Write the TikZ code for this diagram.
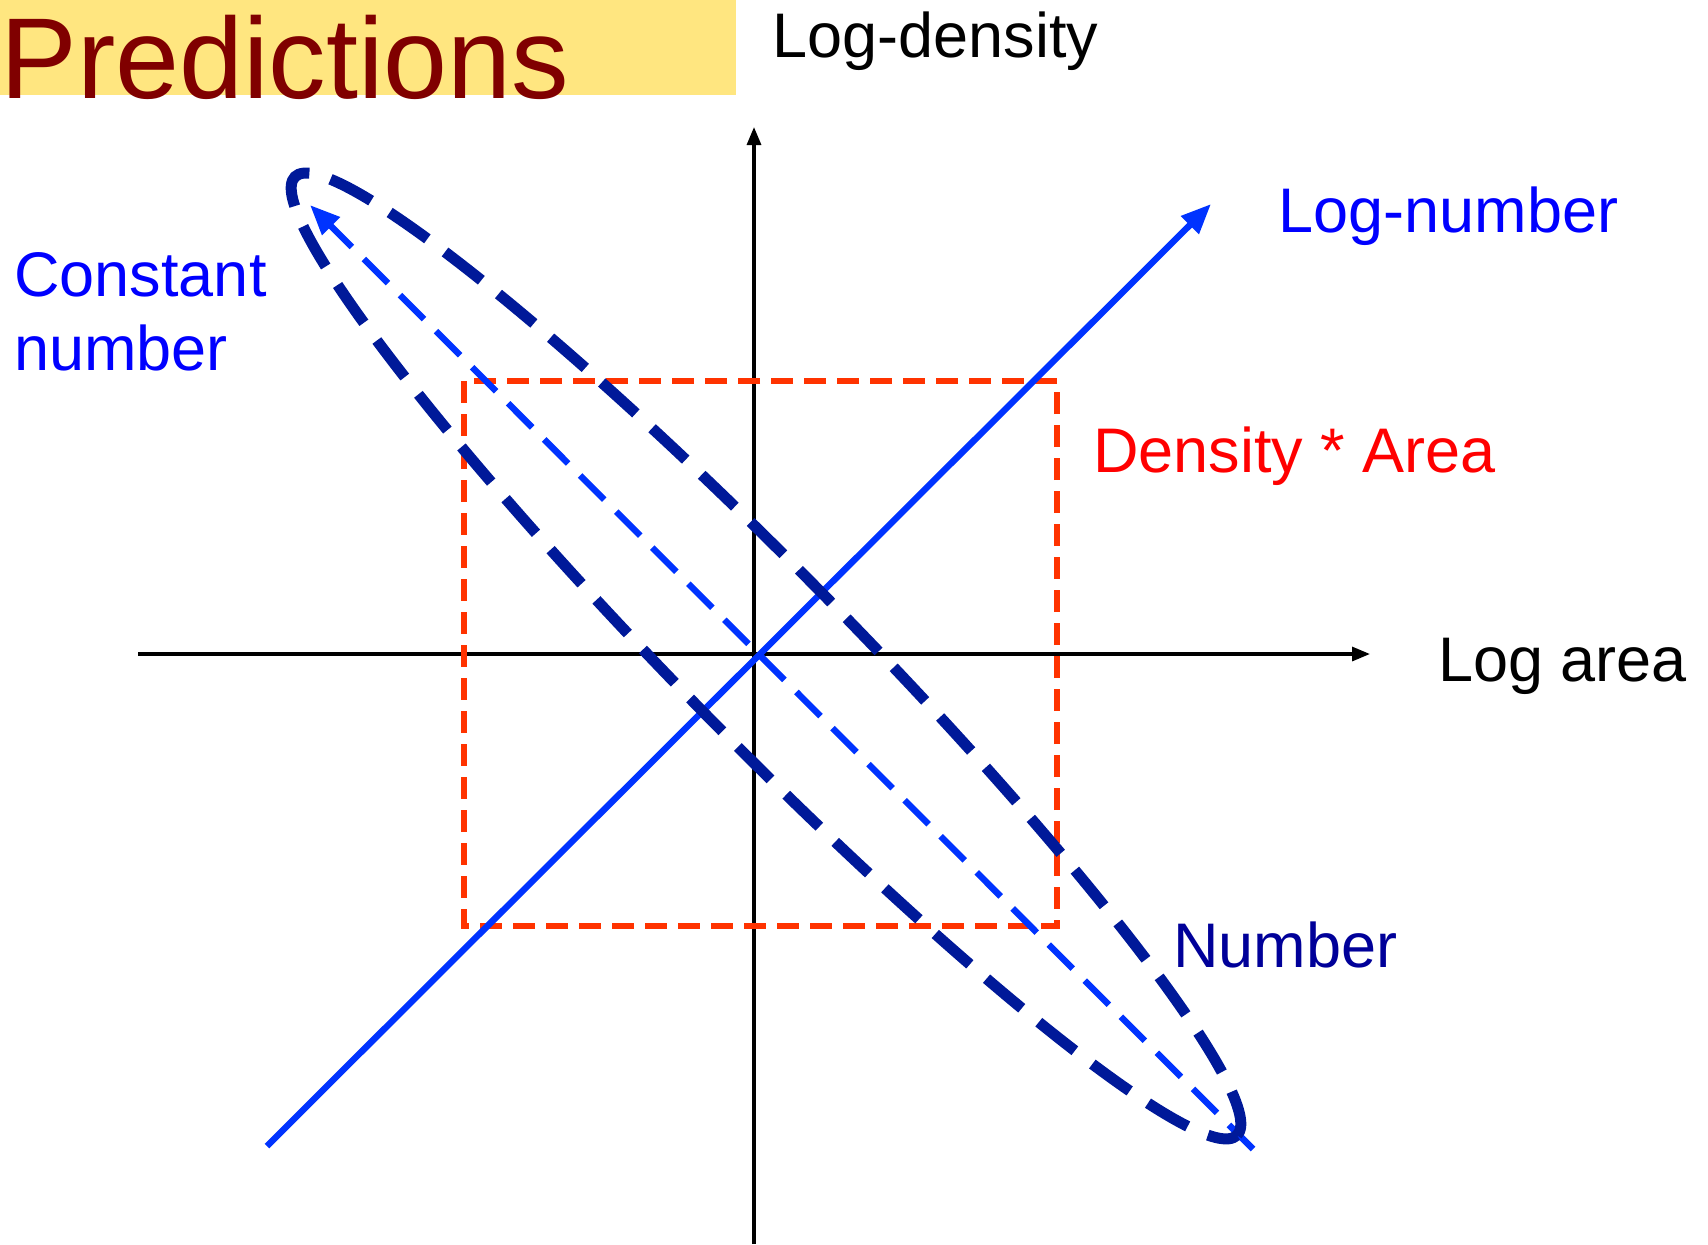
\documentclass[tikz,border=0pt]{standalone}
\usepackage{fontspec}
\setmainfont{Liberation Sans}
\usetikzlibrary{arrows.meta}
\definecolor{barYellow}{RGB}{255,230,128}
\definecolor{titleRed}{RGB}{128,0,0}
\definecolor{lineBlue}{RGB}{0,51,255}
\definecolor{labelBlue}{RGB}{0,0,255}
\definecolor{navy}{RGB}{0,25,153}
\definecolor{numNavy}{RGB}{0,0,153}
\definecolor{boxRed}{RGB}{255,51,0}
\definecolor{labelRed}{RGB}{255,0,0}

\begin{document}
\begin{tikzpicture}[x=0.5pt,y=-0.5pt]
	\tikzset{
		axis/.style={line width=1.6pt, -{Triangle[length=9pt,width=7pt]}},
		trend/.style={line width=3.2pt, lineBlue, -{Triangle[length=15pt,width=12pt]}},
		label/.style={anchor=base west, inner sep=0pt, font=\fontsize{31.5}{37}\selectfont}
	}
	\useasboundingbox (0,0) rectangle (1708,1244);
	% title bar
	\fill[barYellow] (0,0) rectangle (736,95);
	\node[anchor=base west, inner sep=0pt, text=titleRed, font=\fontsize{57.5}{60}\selectfont] (title) at (0,98) {Predictions};
	% axes
	\coordinate (O) at (754,654);
	\coordinate (yTop) at (754,127);
	\coordinate (yBot) at (754,1244);
	\coordinate (xLeft) at (138,654);
	\coordinate (xRight) at (1370,654);
	\draw[axis] (yBot) -- (yTop);
	\draw[axis] (xLeft) -- (xRight);
	% density * area box
	\draw[boxRed, line width=3pt, dash pattern=on 11pt off 5.5pt] (464,381) rectangle (1057,926);
	% log-number and constant number
	\coordinate (numStart) at (267,1146);
	\coordinate (numEnd) at (1211,204);
	\coordinate (constStart) at (1253,1149);
	\coordinate (constEnd) at (310,205);
	\draw[trend] (numStart) -- (numEnd);
	\draw[trend, dash pattern=on 17pt off 8.5pt] (constStart) -- (constEnd);
	% number ellipse
	\coordinate (E) at (766,656);
	\draw[navy, line width=5.5pt, dash pattern=on 23pt off 11pt, rotate around={-45.5:(E)}] (E) ellipse [x radius=336pt, y radius=42pt];
	% labels
	\node[label] (logDensity) at (772,57) {Log-density};
	\node[label] (logArea) at (1438,681) {Log area};
	\node[label, text=labelBlue] (logNumber) at (1278,232) {Log-number};
	\node[label, text=labelBlue, align=left] (constNumber) at (14,370) {Constant\\number};
	\node[label, text=labelRed] (densArea) at (1093,472) {Density * Area};
	\node[label, text=numNavy] (number) at (1173,967) {Number};
\end{tikzpicture}
\end{document}
